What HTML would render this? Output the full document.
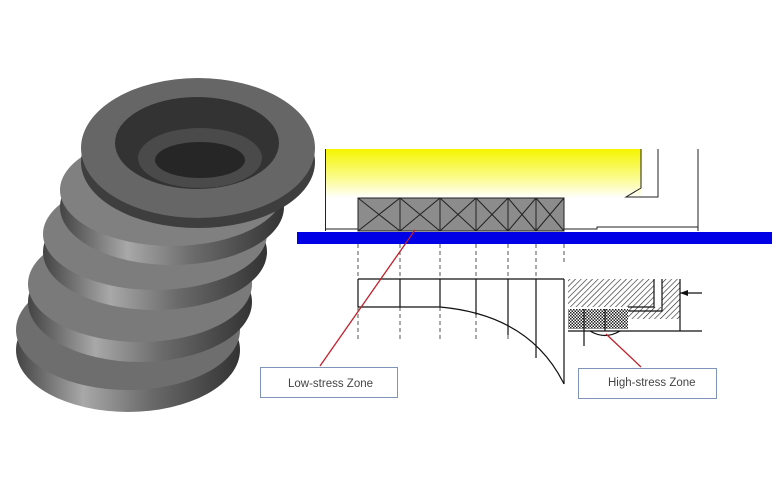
<!DOCTYPE html>
<html><head><meta charset="utf-8"><style>
html,body{margin:0;padding:0;background:#fff;}
svg{display:block}
text{font-family:"Liberation Sans",sans-serif}
</style></head><body>
<svg width="782" height="501" viewBox="0 0 782 501" xmlns="http://www.w3.org/2000/svg">
<defs>
<linearGradient id="yel" x1="0" y1="0" x2="0" y2="1">
<stop offset="0" stop-color="#f5f500"/><stop offset="0.6" stop-color="#fbfb90"/><stop offset="1" stop-color="#ffffff"/>
</linearGradient>
<linearGradient id="side" x1="0" y1="0" x2="1" y2="0">
<stop offset="0" stop-color="#444"/><stop offset="0.3" stop-color="#a8a8a8"/><stop offset="0.6" stop-color="#6a6a6a"/><stop offset="1" stop-color="#333"/>
</linearGradient>
<pattern id="hatch" width="4" height="4" patternUnits="userSpaceOnUse" patternTransform="rotate(45)">
<rect width="4" height="4" fill="#fff"/><line x1="0" y1="0" x2="0" y2="4" stroke="#222" stroke-width="1.2"/>
</pattern>
<pattern id="cross" width="3" height="3" patternUnits="userSpaceOnUse">
<rect width="3" height="3" fill="#fff"/><rect width="1.5" height="1.5" fill="#222"/><rect x="1.5" y="1.5" width="1.5" height="1.5" fill="#222"/>
</pattern>
</defs>
<g>
<ellipse cx="128" cy="350" rx="112" ry="62" fill="url(#side)"/>
<ellipse cx="128" cy="330" rx="112" ry="60" fill="#6e6e6e"/>
<ellipse cx="140" cy="302" rx="112" ry="60" fill="url(#side)"/>
<ellipse cx="140" cy="284" rx="112" ry="58" fill="#7a7a7a"/>
<ellipse cx="155" cy="252" rx="112" ry="58" fill="url(#side)"/>
<ellipse cx="155" cy="234" rx="112" ry="56" fill="#7d7d7d"/>
<ellipse cx="172" cy="207" rx="112" ry="58" fill="url(#side)"/>
<ellipse cx="172" cy="190" rx="112" ry="56" fill="#808080"/>
<ellipse cx="198" cy="162" rx="117" ry="66" fill="#3e3e3e"/>
<ellipse cx="198" cy="148" rx="117" ry="70" fill="#666"/>
<ellipse cx="197" cy="143" rx="82" ry="46" fill="#333"/>
<ellipse cx="200" cy="158" rx="62" ry="30" fill="#4a4a4a"/>
<ellipse cx="200" cy="160" rx="45" ry="18" fill="#262626"/>
</g>
<rect x="326" y="149" width="315" height="49" fill="url(#yel)"/>
<g stroke="#222" stroke-width="1" fill="none">
<line x1="325.5" y1="149" x2="325.5" y2="231"/>
<polyline points="641,149 641,188 626,197 658,197 658,149"/>
<line x1="698" y1="149" x2="698" y2="231"/>
<line x1="326" y1="229" x2="358" y2="229"/>
<polyline points="564,229 597,229 597,227 698,227"/>
</g>
<rect x="358" y="198" width="206" height="33" fill="#8c8c8c" stroke="#222"/>
<g stroke="#222" stroke-width="1">
<line x1="400" y1="198" x2="400" y2="231"/><line x1="440" y1="198" x2="440" y2="231"/>
<line x1="476" y1="198" x2="476" y2="231"/><line x1="508" y1="198" x2="508" y2="231"/>
<line x1="536" y1="198" x2="536" y2="231"/>
<path d="M358 198L400 231M400 198L358 231M400 198L440 231M440 198L400 231M440 198L476 231M476 198L440 231M476 198L508 231M508 198L476 231M508 198L536 231M536 198L508 231M536 198L564 231M564 198L536 231" fill="none"/>
</g>
<rect x="297" y="232" width="475" height="12" fill="#0000e6"/>
<g stroke="#555" stroke-width="1" stroke-dasharray="4,3">
<line x1="358" y1="244" x2="358" y2="342"/><line x1="400" y1="244" x2="400" y2="342"/>
<line x1="440" y1="244" x2="440" y2="342"/><line x1="476" y1="244" x2="476" y2="342"/>
<line x1="508" y1="244" x2="508" y2="342"/><line x1="536" y1="244" x2="536" y2="342"/>
<line x1="564" y1="244" x2="564" y2="262"/>
</g>
<g stroke="#111" stroke-width="1.2" fill="none">
<line x1="358" y1="279" x2="564" y2="279"/>
<line x1="358" y1="279" x2="358" y2="307"/><line x1="358" y1="307" x2="440" y2="307"/>
<line x1="400" y1="279" x2="400" y2="307"/><line x1="440" y1="279" x2="440" y2="307"/>
<line x1="476" y1="279" x2="476" y2="315"/><line x1="508" y1="279" x2="508" y2="335"/>
<line x1="536" y1="279" x2="536" y2="358"/><line x1="564" y1="279" x2="564" y2="384"/>
<path d="M440 307 Q530 315 564 384"/>
</g>
<rect x="568" y="279" width="86" height="28" fill="url(#hatch)"/>
<rect x="662" y="279" width="18" height="40" fill="url(#hatch)"/>
<rect x="628" y="307" width="52" height="12" fill="url(#hatch)"/>
<rect x="568" y="309" width="60" height="20" fill="url(#cross)"/>
<g stroke="#111" stroke-width="1.2" fill="none">
<polyline points="654,279 654,307 628,307"/>
<polyline points="662,279 662,311 628,311"/>
<line x1="568" y1="331" x2="702" y2="331"/>
<line x1="680" y1="279" x2="680" y2="331"/>
<line x1="584" y1="309" x2="584" y2="346"/>
<line x1="605" y1="309" x2="605" y2="331"/>
<path d="M590 331 Q605 340 620 331"/>
<line x1="680" y1="293" x2="702" y2="293"/>
</g>
<path d="M680 293 L688 290 L688 296 Z" fill="#111"/>
<line x1="415" y1="230" x2="320" y2="366" stroke="#c0202a" stroke-width="1.3"/>
<line x1="606" y1="334" x2="641" y2="367" stroke="#c0202a" stroke-width="1.3"/>
<rect x="260.5" y="367.5" width="137" height="30" fill="#fff" stroke="#7f94b8"/>
<text x="288" y="387" font-size="11.5" fill="#444">Low-stress Zone</text>
<rect x="578.5" y="368.5" width="138" height="30" fill="#fff" stroke="#7f94b8"/>
<text x="608" y="386" font-size="11.5" fill="#444">High-stress Zone</text>
</svg>
</body></html>
